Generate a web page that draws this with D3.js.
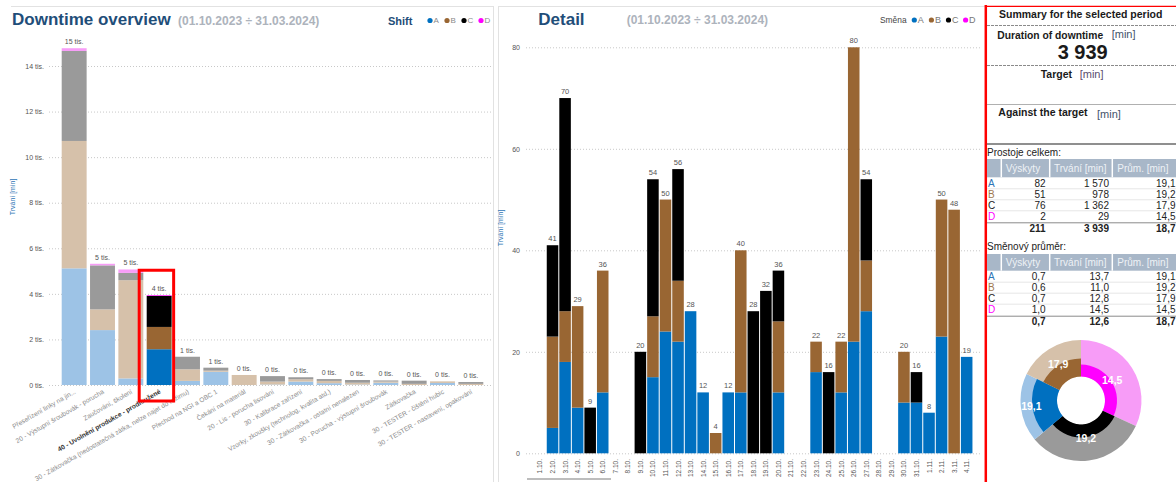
<!DOCTYPE html>
<html><head><meta charset="utf-8">
<script src="https://cdn.jsdelivr.net/npm/d3@7"></script>
<style>
html,body{margin:0;padding:0;background:#fff;}
svg{display:block;font-family:"Liberation Sans",Arial,sans-serif;}
</style></head><body>
<svg id="c" width="1176" height="482"></svg>
<script>
// ---------------- DATA ----------------
const shiftKeys = ['A','B','C','D'];

const overviewCategories = [
  'Přeseřízení linky na jin...',
  '20 - Výstupní šroubovák - porucha',
  'Zaučování, školení',
  '40 - Uvolnění produkce - prodloužené',
  '30 - Zátkovačka (nedostatečná zátka, nelze najet do režimu)',
  'Přechod na NGI a OBC 1',
  'Čekání na materiál',
  '20 - Lis - porucha lisování',
  '30 - Kalibrace zařízení',
  'Vzorky, zkoušky (technolog, kvalita atd.)',
  '30 - Zátkovačka - ostatní nenalezen',
  '30 - Porucha - výstupní šroubovák',
  'Zátkovačka',
  '30 - TESTER - čištění hubic',
  '30 - TESTER - nastavení, opakování'
];
const overviewA = [5120, 2410, 290, 1570, 180, 580, 0, 20, 150, 80, 20, 100, 0, 90, 0];
const overviewB = [5590, 910, 4310, 978, 510, 50, 440, 130, 100, 100, 80, 50, 50, 70, 50];
const overviewC = [3950, 1930, 320, 1362, 550, 130, 0, 240, 90, 80, 120, 50, 140, 0, 80];
const overviewD = [120, 70, 150, 29, 0, 0, 0, 0, 0, 0, 0, 0, 0, 0, 0];
const overviewSelected = 3;
const overviewTicks = [0, 2000, 4000, 6000, 8000, 10000, 12000, 14000];

const detailDays = ['1.10.','2.10.','3.10.','4.10.','5.10.','6.10.','7.10.','8.10.','9.10.','10.10.',
  '11.10.','12.10.','13.10.','14.10.','15.10.','16.10.','17.10.','18.10.','19.10.','20.10.',
  '21.10.','22.10.','23.10.','24.10.','25.10.','26.10.','27.10.','28.10.','29.10.','30.10.',
  '31.10.','1.11.','2.11.','3.11.','4.11.'];
const detailA = [0,5,18,9,0,12,0,0,0,15,24,22,28,12,0,12,12,0,0,12,0,0,16,0,12,22,28,0,0,10,10,8,23,0,19];
const detailB = [0,18,10,20,0,24,0,0,0,12,26,12,0,0,4,0,28,0,0,14,0,0,6,0,10,58,10,0,0,10,0,0,27,48,0];
const detailC = [0,18,42,0,9,0,0,0,20,27,0,22,0,0,0,0,0,28,32,10,0,0,0,16,0,0,16,0,0,0,6,0,0,0,0];
const detailD = [0,0,0,0,0,0,0,0,0,0,0,0,0,0,0,0,0,0,0,0,0,0,0,0,0,0,0,0,0,0,0,0,0,0,0];
const detailTicks = [0, 20, 40, 60, 80];

const totalCounts = [82, 51, 76, 2];
const totalDuration = [1570, 978, 1362, 29];
const totalAverage = [19.1, 19.2, 17.9, 14.5];
const totalAverageAll = 18.7;

const shiftCounts = [0.7, 0.6, 0.7, 1.0];
const shiftDuration = [13.7, 11.0, 12.8, 14.5];
const shiftAverage = [19.1, 19.2, 17.9, 14.5];
const shiftTotals = [0.7, 12.6, 18.7];

const donutShifts = ['D', 'C', 'A', 'B'];
const donutShare = [115, 115, 66, 64];
const donutInner = [12, 13, 25, 18];
const donutLabels = ['14,5', '19,2', '19,1', '17,9'];

// ---------------- STYLE ----------------
const fullColor = {A:'#0070c0', B:'#996633', C:'#000000', D:'#ff00ff'};
const lightColor = {A:'#9dc3e6', B:'#d6c1aa', C:'#9a9a9a', D:'#f79cf7'};
const letterColor = {A:'#2e75b6', B:'#a0784f', C:'#222222', D:'#ff00ff'};
const titleBlue = '#1f4e79';
const loc = d3.formatLocale({decimal:',', thousands:' ', grouping:[3], currency:['','']});
const fInt = loc.format(',d');
const fDec = loc.format('.1f');

const svg = d3.select('#c');

// frames
svg.append('line').attr('x1',11).attr('x2',493).attr('y1',6.5).attr('y2',6.5).attr('stroke','#e2e2e2');
svg.append('line').attr('x1',493.5).attr('x2',493.5).attr('y1',6).attr('y2',482).attr('stroke','#e2e2e2');
svg.append('line').attr('x1',498).attr('x2',985).attr('y1',6.5).attr('y2',6.5).attr('stroke','#e2e2e2');
svg.append('line').attr('x1',498.5).attr('x2',498.5).attr('y1',6).attr('y2',482).attr('stroke','#e2e2e2');

// ---------------- LEFT: OVERVIEW ----------------
const overviewRows = overviewCategories.map((c, i) => ({cat:c, i, A:overviewA[i], B:overviewB[i], C:overviewC[i], D:overviewD[i]}));
const xL = d3.scaleBand().domain(overviewCategories).range([60,485]).paddingInner(0.12).paddingOuter(0.06);
const yL = d3.scaleLinear().domain([0,14000]).range([385,66]);

const axL = svg.append('g').attr('transform','translate(49,0)')
  .call(d3.axisLeft(yL).tickValues(overviewTicks).tickFormat(d => (d/1000) + ' tis.').tickSize(-444).tickPadding(5));
axL.select('.domain').remove();
axL.selectAll('line').attr('stroke','#c8c8c8').attr('stroke-dasharray','1,2');
axL.selectAll('text').attr('font-size',7).attr('fill','#555').attr('font-family','Liberation Sans, Arial');

const stackL = d3.stack().keys(shiftKeys)(overviewRows);
stackL.forEach(layer => {
  svg.append('g').selectAll('rect').data(layer).join('rect')
    .attr('x', d => xL(d.data.cat))
    .attr('width', xL.bandwidth())
    .attr('y', d => yL(d[1]))
    .attr('height', d => Math.max(0, yL(d[0]) - yL(d[1])))
    .attr('fill', d => d.data.i === overviewSelected ? fullColor[layer.key] : lightColor[layer.key]);
});
svg.append('g').selectAll('text').data(overviewRows).join('text')
  .attr('x', d => xL(d.cat) + xL.bandwidth()/2)
  .attr('y', d => yL(d.A+d.B+d.C+d.D) - 4)
  .attr('text-anchor','middle').attr('font-size',7).attr('fill','#555')
  .text(d => Math.round((d.A+d.B+d.C+d.D)/1000) + ' tis.');

svg.append('g').selectAll('text').data(overviewRows).join('text')
  .attr('transform', d => `translate(${xL(d.cat) + xL.bandwidth()/2 + 2},393) rotate(-30)`)
  .attr('text-anchor','end').attr('font-size',6.6)
  .attr('font-weight', d => d.i === overviewSelected ? 'bold' : 'normal')
  .attr('fill', d => d.i === overviewSelected ? '#333' : '#8c8c8c')
  .text(d => d.cat);

// selected highlight box
{
  const r = overviewRows[overviewSelected];
  const top = yL(r.A+r.B+r.C+r.D);
  svg.append('rect').attr('x', xL(r.cat) - 7.5).attr('y', top - 25)
    .attr('width', xL.bandwidth() + 9.5).attr('height', 401 - (top - 25))
    .attr('fill','none').attr('stroke','#ff0000').attr('stroke-width',3);
}

svg.append('text').attr('transform','translate(15,197) rotate(-90)').attr('text-anchor','middle')
  .attr('font-size',7).attr('fill','#2e75b6').text('Trvání [min]');

svg.append('text').attr('x',12).attr('y',25).attr('font-size',17).attr('font-weight','bold').attr('fill',titleBlue).text('Downtime overview');
svg.append('text').attr('x',178).attr('y',24.5).attr('font-size',12).attr('font-weight','bold').attr('fill','#adb3bc').text('(01.10.2023 ÷ 31.03.2024)');
svg.append('text').attr('x',388).attr('y',25).attr('font-size',11).attr('font-weight','bold').attr('fill',titleBlue).text('Shift');
shiftKeys.forEach((k, i) => {
  svg.append('circle').attr('cx', 430 + i*17).attr('cy', 20.5).attr('r', 2.6).attr('fill', fullColor[k]);
  svg.append('text').attr('x', 433.5 + i*17).attr('y', 23).attr('font-size', 8).attr('fill', '#8a8a8a').text(k);
});

// ---------------- MIDDLE: DETAIL ----------------
const detailRows = detailDays.map((d, i) => ({day:d, i, A:detailA[i], B:detailB[i], C:detailC[i], D:detailD[i]}));
const xM = d3.scaleBand().domain(detailDays).range([533.7,972.95]).paddingInner(0.08).paddingOuter(0.04);
const yM = d3.scaleLinear().domain([0,80]).range([453.3,47.3]);

const axM = svg.append('g').attr('transform','translate(526,0)')
  .call(d3.axisLeft(yM).tickValues(detailTicks).tickSize(-454).tickPadding(6));
axM.select('.domain').remove();
axM.selectAll('line').attr('stroke','#c8c8c8').attr('stroke-dasharray','1,2');
axM.selectAll('text').attr('font-size',7).attr('fill','#555').attr('font-family','Liberation Sans, Arial');

const stackM = d3.stack().keys(shiftKeys)(detailRows);
stackM.forEach(layer => {
  svg.append('g').selectAll('rect').data(layer.filter(d => d[1] > d[0])).join('rect')
    .attr('x', d => xM(d.data.day))
    .attr('width', xM.bandwidth())
    .attr('y', d => yM(d[1]))
    .attr('height', d => yM(d[0]) - yM(d[1]))
    .attr('fill', fullColor[layer.key]);
});
svg.append('g').selectAll('text').data(detailRows.filter(d => d.A+d.B+d.C+d.D > 0)).join('text')
  .attr('x', d => xM(d.day) + xM.bandwidth()/2)
  .attr('y', d => yM(d.A+d.B+d.C+d.D) - 4)
  .attr('text-anchor','middle').attr('font-size',7.5).attr('fill','#555')
  .text(d => d.A+d.B+d.C+d.D);

svg.append('g').selectAll('text').data(detailRows).join('text')
  .attr('transform', d => `translate(${xM(d.day) + xM.bandwidth()/2 + 2.5},459) rotate(-90)`)
  .attr('text-anchor','end').attr('font-size',6.5).attr('fill','#555')
  .text(d => d.day);

svg.append('rect').attr('x',527).attr('y',478).attr('width',84).attr('height',2).attr('fill','#bdbdbd');

svg.append('text').attr('transform','translate(503,228) rotate(-90)').attr('text-anchor','middle')
  .attr('font-size',7).attr('fill','#2e75b6').text('Trvání [min]');

svg.append('text').attr('x',538.3).attr('y',25).attr('font-size',17).attr('font-weight','bold').attr('fill',titleBlue).text('Detail');
svg.append('text').attr('x',626.7).attr('y',23.5).attr('font-size',12).attr('font-weight','bold').attr('fill','#adb3bc').text('(01.10.2023 ÷ 31.03.2024)');
svg.append('text').attr('x',880).attr('y',23).attr('font-size',8.4).attr('fill','#444').text('Směna');
shiftKeys.forEach((k, i) => {
  svg.append('circle').attr('cx', 914.3 + i*17.1).attr('cy', 20).attr('r', 2.6).attr('fill', fullColor[k]);
  svg.append('text').attr('x', 917.8 + i*17.1).attr('y', 23.3).attr('font-size', 9).attr('fill', '#777').text(k);
});

// ---------------- RIGHT: SUMMARY ----------------
svg.append('line').attr('x1',985.8).attr('x2',985.8).attr('y1',5).attr('y2',482).attr('stroke','#ff0000').attr('stroke-width',2.5);
svg.append('line').attr('x1',985).attr('x2',1176).attr('y1',6.3).attr('y2',6.3).attr('stroke','#ff0000').attr('stroke-width',1.3);

const hline = (y, col, dash, w) => svg.append('line').attr('x1',987).attr('x2',1176).attr('y1',y).attr('y2',y)
  .attr('stroke',col).attr('stroke-width',w||1).attr('stroke-dasharray',dash||null);
hline(25.5,'#8a8a8a','3,1');
hline(65.5,'#8a8a8a','3,1');
hline(104.5,'#b0b0b0');
hline(144,'#6a6a6a',null,1.5);

svg.append('text').attr('x',999).attr('y',18.3).attr('font-size',10.5).attr('font-weight','bold').attr('fill','#1a1a1a').text('Summary for the selected period');
svg.append('text').attr('x',997.3).attr('y',39.3).attr('font-size',10.3).attr('font-weight','bold').attr('fill','#1a1a1a').text('Duration of downtime');
svg.append('text').attr('x',1111.7).attr('y',37.5).attr('font-size',11).attr('fill','#44546a').text('[min]');
svg.append('text').attr('x',1082.7).attr('y',58.5).attr('text-anchor','middle').attr('font-size',20).attr('font-weight','bold').attr('fill','#1a1a1a').text(fInt(d3.sum(totalDuration)));
svg.append('text').attr('x',1040.7).attr('y',78.3).attr('font-size',10.5).attr('font-weight','bold').attr('fill','#1a1a1a').text('Target');
svg.append('text').attr('x',1079.7).attr('y',77.5).attr('font-size',11).attr('fill','#5b4f6e').text('[min]');
svg.append('text').attr('x',998.3).attr('y',115.7).attr('font-size',10.5).attr('font-weight','bold').attr('fill','#1a1a1a').text('Against the target');
svg.append('text').attr('x',1097).attr('y',118.3).attr('font-size',11).attr('fill','#44546a').text('[min]');

function drawTable(title, titleY, headerTop, headerBottom, counts, durs, avgs, totals, fc, fd) {
  svg.append('text').attr('x',987).attr('y',titleY).attr('font-size',10).attr('fill','#222').text(title);
  svg.append('rect').attr('x',987).attr('y',headerTop).attr('width',189).attr('height',headerBottom-headerTop).attr('fill','#a8b7c8');
  [1001.3, 1049.7, 1112.3].forEach(x => svg.append('line').attr('x1',x).attr('x2',x).attr('y1',headerTop).attr('y2',headerBottom).attr('stroke','#fff').attr('stroke-width',1.5));
  const hy = (headerTop + headerBottom)/2 + 3.5;
  [['Výskyty',1005.7],['Trvání [min]',1054],['Prům. [min]',1117.3]].forEach(([t,x]) =>
    svg.append('text').attr('x',x).attr('y',hy).attr('font-size',10).attr('fill','#eef2f6').text(t));
  const rightEdges = [1045.7, 1109, 1175.5];
  shiftKeys.forEach((k, i) => {
    const cy = headerBottom + 6 + i*11;
    if (i > 0) svg.append('line').attr('x1',987).attr('x2',1176).attr('y1',cy-5.5).attr('y2',cy-5.5).attr('stroke','#e6e6e6');
    svg.append('text').attr('x',988).attr('y',cy+3.6).attr('font-size',10).attr('fill',letterColor[k]).text(k);
    [fc(counts[i]), fd(durs[i]), fDec(avgs[i])].forEach((v, j) =>
      svg.append('text').attr('x',rightEdges[j]).attr('y',cy+3.6).attr('text-anchor','end').attr('font-size',10).attr('fill','#222').text(v));
  });
  const ly = headerBottom + 45.5;
  svg.append('line').attr('x1',987).attr('x2',1176).attr('y1',ly).attr('y2',ly).attr('stroke','#8a8a8a');
  totals.forEach((v, j) =>
    svg.append('text').attr('x',rightEdges[j]).attr('y',ly+9.2).attr('text-anchor','end').attr('font-size',10).attr('font-weight','bold').attr('fill','#222').text(v));
}
drawTable('Prostoje celkem:', 155.7, 159, 177.3, totalCounts, totalDuration, totalAverage,
  [fInt(d3.sum(totalCounts)), fInt(d3.sum(totalDuration)), fDec(totalAverageAll)], fInt, fInt);
drawTable('Směnový průměr:', 250, 254, 270.7, shiftCounts, shiftDuration, shiftAverage,
  shiftTotals.map(fDec), fDec, fDec);

// donut
{
  const cx = 1081, cy = 400.5;
  const holeR = 24, outerR = 60.5;
  const pie = d3.pie().sort(null).value(d => d.share);
  const donutData = donutShifts.map((k, i) => ({key:k, share:donutShare[i], inner:donutInner[i], label:donutLabels[i]}));
  const arcs = pie(donutData);
  const rInner = d3.scaleLinear().domain([0,25]).range([holeR, holeR + 25]);
  const g = svg.append('g').attr('transform', `translate(${cx},${cy})`);
  g.selectAll('path.outer').data(arcs).join('path').attr('class','outer')
    .attr('d', d => d3.arc().innerRadius(holeR).outerRadius(outerR)(d))
    .attr('fill', d => lightColor[d.data.key]);
  g.selectAll('path.inner').data(arcs).join('path').attr('class','inner')
    .attr('d', d => d3.arc().innerRadius(holeR).outerRadius(rInner(d.data.inner))(d))
    .attr('fill', d => fullColor[d.data.key]);
  g.selectAll('text').data(arcs).join('text')
    .attr('transform', d => {
      const a = (d.startAngle + d.endAngle)/2, r = rInner(d.data.inner) + 1;
      return `translate(${Math.sin(a)*r},${-Math.cos(a)*r + 3.8})`;
    })
    .attr('text-anchor','middle').attr('font-size',10.5).attr('font-weight','bold').attr('fill','#fff')
    .text(d => d.data.label);
}
</script>
</body></html>
